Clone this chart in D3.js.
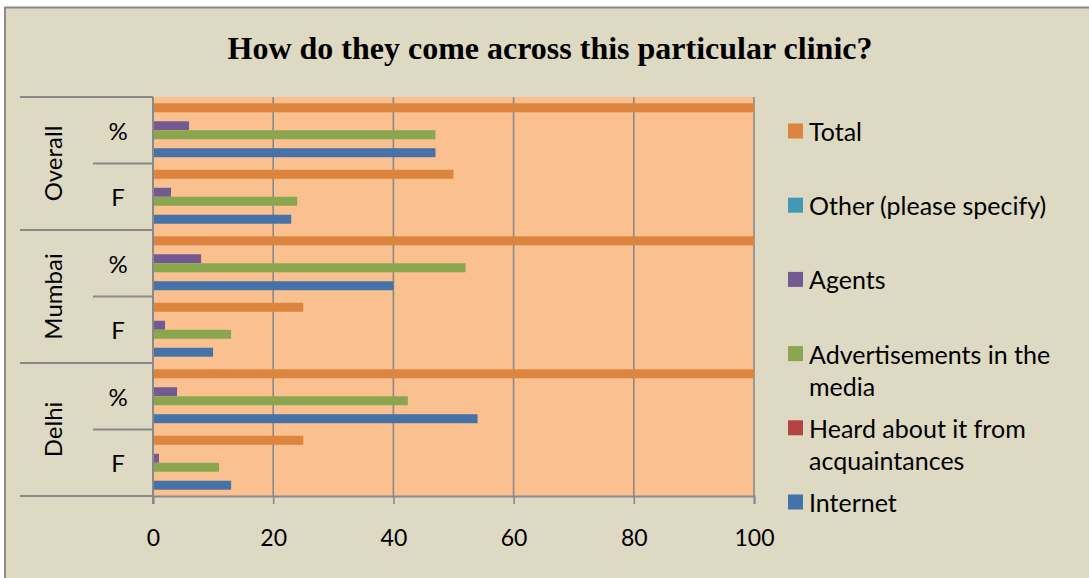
<!DOCTYPE html>
<html><head><meta charset="utf-8">
<script src="https://cdn.jsdelivr.net/npm/d3@7"></script>
<style>
html,body{margin:0;padding:0;background:#fff;}
svg{display:block;}
</style>
</head><body>
<svg id="chart" width="1089" height="578"></svg>
<script>
// ---- data ----
const groups = ["Overall", "Mumbai", "Delhi"];
const subLabels = ["%", "F"];
const categories = ["Overall %", "Overall F", "Mumbai %", "Mumbai F", "Delhi %", "Delhi F"];
// series in legend order (top to bottom)
const seriesNames = ["Total", "Other (please specify)", "Agents", "Advertisements in the media", "Heard about it from acquaintances", "Internet"];
const totalVals    = [100, 50, 100, 25, 100, 25];
const otherVals    = [0, 0, 0, 0, 0, 0];
const agentsVals   = [6, 3, 8, 2, 4, 1];
const advertVals   = [47, 24, 52, 13, 42.4, 11];
const heardVals    = [0, 0, 0, 0, 0, 0];
const internetVals = [47, 23, 40, 10, 54, 13];
const xTicks = [0, 20, 40, 60, 80, 100];
const title = "How do they come across this particular clinic?";

const seriesValues = [totalVals, otherVals, agentsVals, advertVals, heardVals, internetVals];
const colors = ["#DD843E", "#4299B3", "#745A93", "#8AA64F", "#B24543", "#4573A8"];

const FONT = "Lato, 'Open Sans', sans-serif";
const svg = d3.select("#chart");
const W = 1089, H = 578;

// background + border
svg.append("rect").attr("x", 0).attr("y", 0).attr("width", W).attr("height", H).attr("fill", "#fff");
svg.append("rect").attr("x", 5).attr("y", 7.5).attr("width", W + 10).attr("height", H + 10)
  .attr("fill", "#DDD9C3").attr("stroke", "#8a8a8a").attr("stroke-width", 2);

const plot = {left: 153, right: 754, top: 97, bottom: 496};

const x = d3.scaleLinear().domain([0, 100]).range([plot.left, plot.right]);
const y0 = d3.scaleBand().domain(categories).range([plot.top, plot.bottom]).padding(0);
const y1 = d3.scaleBand().domain(seriesNames).range([0, y0.bandwidth()]).paddingInner(0).paddingOuter(0.7);

// plot area
svg.append("rect").attr("x", plot.left).attr("y", plot.top)
  .attr("width", plot.right - plot.left).attr("height", plot.bottom - plot.top)
  .attr("fill", "#FAC090");

// gridlines
svg.append("g").selectAll("line").data(xTicks.slice(1)).join("line")
  .attr("x1", d => x(d)).attr("x2", d => x(d))
  .attr("y1", plot.top).attr("y2", plot.bottom)
  .attr("stroke", "#898989").attr("stroke-width", 1.6);

// bars
const rows = [];
categories.forEach((c, i) => {
  seriesNames.forEach((s, j) => {
    rows.push({cat: c, series: s, value: seriesValues[j][i], color: colors[j]});
  });
});
svg.append("g").selectAll("rect").data(rows.filter(d => d.value > 0)).join("rect")
  .attr("x", x(0))
  .attr("y", d => y0(d.cat) + y1(d.series))
  .attr("width", d => x(d.value) - x(0))
  .attr("height", y1.bandwidth())
  .attr("fill", d => d.color);

// x axis
const xAxis = d3.axisBottom(x).tickValues(xTicks).tickSize(8).tickPadding(26).tickFormat(d3.format("d"));
const gx = svg.append("g").attr("transform", `translate(0,${plot.bottom})`).call(xAxis);
gx.select(".domain").attr("stroke", "#898989").attr("stroke-width", 2);
gx.selectAll(".tick line").attr("stroke", "#898989").attr("stroke-width", 1.6);
gx.selectAll(".tick text").attr("font-family", FONT).attr("font-size", 23).attr("fill", "#000");

// y axis (multi-level)
const ax = svg.append("g");
ax.append("line").attr("x1", plot.left).attr("x2", plot.left).attr("y1", plot.top).attr("y2", plot.bottom + 8)
  .attr("stroke", "#898989").attr("stroke-width", 2);
// outer separators
const groupEdges = [];
groups.forEach((g, gi) => {
  groupEdges.push(y0(categories[gi * 2]));
});
groupEdges.push(plot.bottom);
ax.selectAll("line.outer").data(groupEdges).join("line").attr("class", "outer")
  .attr("x1", 20).attr("x2", plot.left).attr("y1", d => d).attr("y2", d => d)
  .attr("stroke", "#898989").attr("stroke-width", 2);
// inner separators
ax.selectAll("line.inner").data(groups.map((g, gi) => y0(categories[gi * 2 + 1]))).join("line").attr("class", "inner")
  .attr("x1", 93).attr("x2", plot.left).attr("y1", d => d).attr("y2", d => d)
  .attr("stroke", "#898989").attr("stroke-width", 2);
// sub labels
ax.selectAll("text.sub").data(categories).join("text").attr("class", "sub")
  .attr("x", 118).attr("y", d => y0(d) + y0.bandwidth() / 2)
  .attr("text-anchor", "middle").attr("dominant-baseline", "central")
  .attr("font-family", FONT).attr("font-size", 24).attr("fill", "#000")
  .text((d, i) => subLabels[i % 2]);
// group labels
ax.selectAll("text.grp").data(groups).join("text").attr("class", "grp")
  .attr("transform", (d, gi) => `translate(52,${y0(categories[gi * 2]) + y0.bandwidth()}) rotate(-90)`)
  .attr("text-anchor", "middle").attr("dominant-baseline", "central")
  .attr("font-family", FONT).attr("font-size", 24).attr("fill", "#000")
  .text(d => d);

// title
svg.append("text").attr("x", 550).attr("y", 59).attr("text-anchor", "middle")
  .attr("font-family", "'Liberation Serif', 'Times New Roman', serif").attr("font-weight", "bold")
  .attr("font-size", 32).attr("fill", "#000").text(title);

// legend
const legendLines = [["Total"], ["Other (please specify)"], ["Agents"], ["Advertisements in the", "media"], ["Heard about it from", "acquaintances"], ["Internet"]];
const legY = d3.scalePoint().domain(seriesNames).range([131, 502]);
const lg = svg.append("g").selectAll("g").data(seriesNames).join("g")
  .attr("transform", d => `translate(788,${legY(d)})`);
lg.append("rect").attr("x", 0).attr("y", -7.5).attr("width", 15).attr("height", 15)
  .attr("fill", (d, i) => colors[i]);
lg.each(function(d, i) {
  const t = d3.select(this).append("text").attr("x", 21).attr("y", 0)
    .attr("font-family", FONT).attr("font-size", 25).attr("fill", "#000")
    .attr("dominant-baseline", "central");
  legendLines[i].forEach((ln, k) => {
    t.append("tspan").attr("x", 21).attr("y", k * 32).text(ln);
  });
});
</script>
</body></html>
